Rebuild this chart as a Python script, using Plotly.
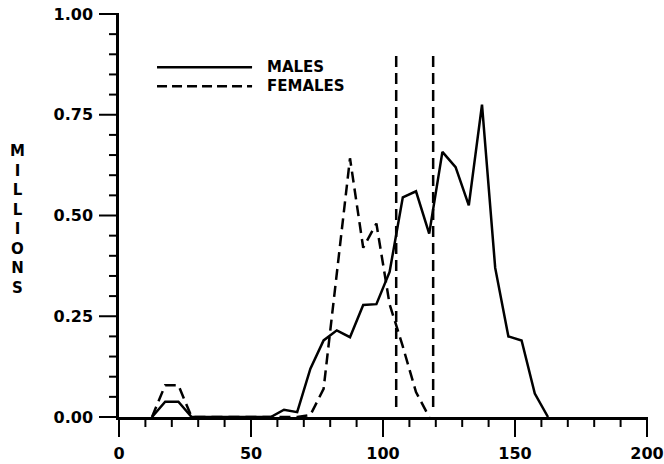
import plotly.graph_objects as go

# Length-frequency distributions (millions of fish) by length class
male_len = [12.5, 17.5, 22.5, 27.5, 57.5, 62.5, 67.5, 72.5, 77.5, 82.5, 87.5,
            92.5, 97.5, 102.5, 107.5, 112.5, 117.5, 122.5, 127.5, 132.5,
            137.5, 142.5, 147.5, 152.5, 157.5, 162.5]
male_millions = [0.0, 0.038, 0.038, 0.0, 0.0, 0.018, 0.012, 0.12, 0.19, 0.215,
                 0.198, 0.278, 0.28, 0.36, 0.545, 0.56, 0.455, 0.658, 0.62,
                 0.525, 0.775, 0.37, 0.2, 0.19, 0.058, 0.0]

female_len = [12.5, 17.5, 22.5, 27.5, 67.5, 72.5, 77.5, 82.5, 87.5, 92.5,
              97.5, 102.5, 107.5, 112.5, 117.5]
female_millions = [0.0, 0.079, 0.079, 0.0, 0.0, 0.005, 0.07, 0.355, 0.642,
                   0.42, 0.48, 0.28, 0.175, 0.062, 0.0]

# Mean lengths marked with vertical dashed lines
mean_lengths = [105, 119]
mean_line_span = [0.025, 0.905]

# Axis ranges and tick spacing
X_RANGE = [0, 200]
Y_RANGE = [0, 1]
X_MAJOR, X_MINOR = 50, 10
Y_MAJOR, Y_MINOR = 0.25, 0.05

# Figure size and margins (pixels)
W, H = 664, 464
M_L, M_R, M_T, M_B = 119, 17, 14, 47
PLOT_W = W - M_L - M_R
PLOT_H = H - M_T - M_B

FONT = "DejaVu Sans"
DASH = "11px,6px"

fig = go.Figure()

fig.add_trace(go.Scatter(
    x=male_len, y=male_millions, mode="lines", name="MALES",
    line=dict(color="black", width=2.5), showlegend=False))
fig.add_trace(go.Scatter(
    x=female_len, y=female_millions, mode="lines", name="FEMALES",
    line=dict(color="black", width=2.5, dash=DASH), showlegend=False))

for m in mean_lengths:
    fig.add_trace(go.Scatter(
        x=[m, m], y=mean_line_span, mode="lines", showlegend=False,
        line=dict(color="black", width=2.5, dash=DASH)))

# Hand-drawn key in the upper left
key = [("MALES", "solid", 0.868), ("FEMALES", "10px,5px", 0.821)]
for label, dash, yk in key:
    fig.add_shape(type="line", xref="x", yref="y", x0=14.4, x1=50.4,
                  y0=yk, y1=yk, line=dict(color="black", width=2.5, dash=dash))
    fig.add_annotation(x=55.3, y=yk, xref="x", yref="y", text=label,
                       showarrow=False, xanchor="left", yanchor="middle",
                       font=dict(family=FONT, size=15, color="black",
                                 weight="bold"))

# Stacked vertical axis title
fig.add_annotation(x=-0.193, y=0.489, xref="paper", yref="paper",
                   text="<br>".join("MILLIONS"), showarrow=False,
                   xanchor="center", yanchor="middle", align="center",
                   font=dict(family=FONT, size=15, color="black",
                             weight="bold"))

# Plotter-style tick marks: long at labelled values, short in between
tick_line = dict(color="black", width=2)


def is_major(v, step):
    return abs(v / step - round(v / step)) < 1e-9


n_x = int(round((X_RANGE[1] - X_RANGE[0]) / X_MINOR))
for i in range(n_x + 1):
    v = X_RANGE[0] + i * X_MINOR
    frac = (v - X_RANGE[0]) / (X_RANGE[1] - X_RANGE[0])
    length = 20 if is_major(v, X_MAJOR) else 10
    fig.add_shape(type="line", xref="paper", yref="paper",
                  x0=frac, x1=frac, y0=0, y1=-length / PLOT_H,
                  line=tick_line)

n_y = int(round((Y_RANGE[1] - Y_RANGE[0]) / Y_MINOR))
for i in range(n_y + 1):
    v = Y_RANGE[0] + i * Y_MINOR
    frac = (v - Y_RANGE[0]) / (Y_RANGE[1] - Y_RANGE[0])
    length = 20 if is_major(v, Y_MAJOR) else 10
    fig.add_shape(type="line", xref="paper", yref="paper",
                  x0=0, x1=-length / PLOT_W, y0=frac, y1=frac,
                  line=tick_line)

tickfont = dict(family=FONT, size=16, color="black", weight="bold")

fig.update_xaxes(
    range=X_RANGE, dtick=X_MAJOR,
    showline=True, linecolor="black", linewidth=2.5,
    ticks="outside", ticklen=20, tickwidth=2, tickcolor="rgba(0,0,0,0)",
    showgrid=False, zeroline=False, tickfont=tickfont, automargin=False)

fig.update_yaxes(
    range=Y_RANGE, dtick=Y_MAJOR, tickformat=".2f",
    showline=True, linecolor="black", linewidth=2.5,
    ticks="outside", ticklen=20, tickwidth=2, tickcolor="rgba(0,0,0,0)",
    showgrid=False, zeroline=False, tickfont=tickfont, automargin=False)

fig.update_layout(
    width=W, height=H,
    margin=dict(l=M_L, r=M_R, t=M_T, b=M_B),
    paper_bgcolor="white", plot_bgcolor="white",
    showlegend=False)

fig.write_html("out.html")
